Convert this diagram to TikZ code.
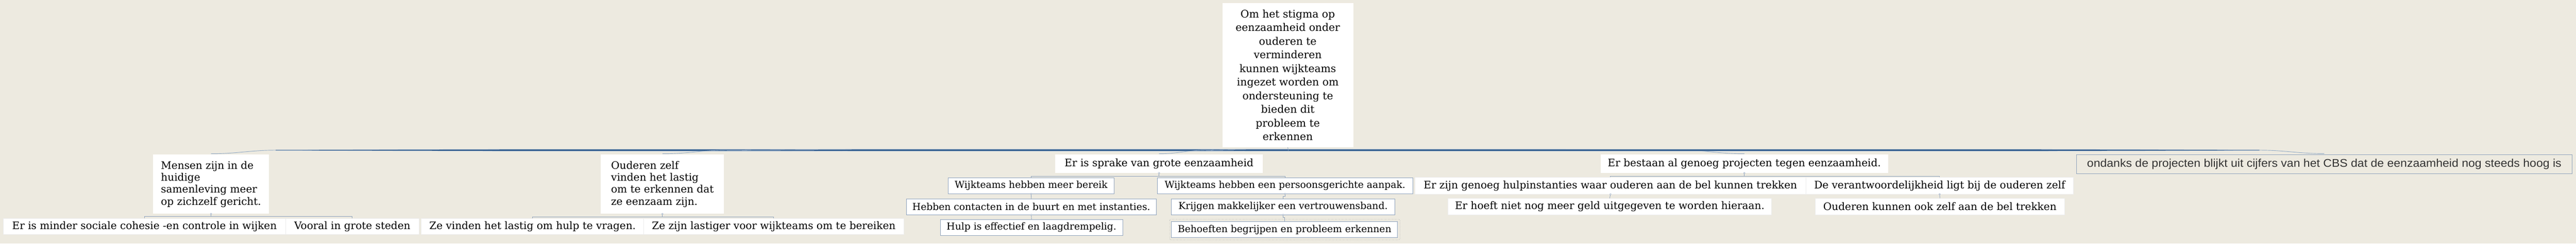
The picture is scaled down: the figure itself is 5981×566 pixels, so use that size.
\documentclass[tikz,border=0pt]{standalone}
\usepackage{fontspec}
\setmainfont{DejaVu Serif}
\newfontfamily\cbsfont{Liberation Sans}[FakeStretch=1.06]
\usetikzlibrary{calc}
\definecolor{paper}{RGB}{237,234,224}
\definecolor{trunkblue}{RGB}{44,88,138}
\definecolor{glowblue}{RGB}{172,190,212}
\definecolor{linkblue}{RGB}{143,163,189}
\definecolor{cbsgrey}{RGB}{51,51,51}
\begin{document}
\begin{tikzpicture}[x=1pt, y=-1pt,
    box/.style={fill=white, inner sep=0pt, font=\fontsize{24}{28}\selectfont},
    leaf/.style={box, draw=black!7, line width=0.8pt},
    framed/.style={box, draw=linkblue, line width=1pt, font=\fontsize{22.4}{26}\selectfont},
    cbsbox/.style={fill=paper, draw=linkblue, line width=1pt, inner sep=0pt, text=cbsgrey, font=\cbsfont\fontsize{26}{30}\selectfont},
    link/.style={draw=linkblue, line width=1pt},
    dot/.style={draw=linkblue, fill=white, line width=0.6pt},
    twig/.style={draw=glowblue!80!trunkblue, line width=1.1pt},
    selbox/.style={draw=black!35, dotted, rounded corners=3pt, line width=0.8pt}]
        % canvas
        \fill[paper] (0,0) rectangle (5981,566);
        \useasboundingbox (0,0) rectangle (5981,566);
        % centre
        \node[box, minimum width=304pt, minimum height=335pt, align=center, font=\fontsize{24.3}{31.7}\selectfont] (top) at (2990,174.5)
          {Om het stigma op\\eenzaamheid onder\\ouderen te\\verminderen\\kunnen wijkteams\\ingezet worden om\\ondersteuning te\\bieden dit\\probleem te\\erkennen};
        \coordinate (hub) at (2991,349);
        % main topics
        \node[box, minimum width=270pt, minimum height=138pt, align=left] (mensen) at (490,428)
          {Mensen zijn in de\\huidige\\samenleving meer\\op zichzelf gericht.};
        \node[box, minimum width=286pt, minimum height=138pt, align=left] (ouderen) at (1538,428)
          {Ouderen zelf\\vinden het lastig\\om te erkennen dat\\ze eenzaam zijn.};
        \node[box, minimum width=482pt, minimum height=43pt] (sprake) at (2691,380.5) {Er is sprake van grote eenzaamheid};
        \node[box, minimum width=668pt, minimum height=43pt] (bestaan) at (4050,380.5) {Er bestaan al genoeg projecten tegen eenzaamheid.};
        \node[cbsbox, minimum width=1151pt, minimum height=45pt] (cbs) at (5396.5,381.5)
          {ondanks de projecten blijkt uit cijfers van het CBS dat de eenzaamheid nog steeds hoog is};
        % subtopics
        \node[leaf, minimum width=655pt, minimum height=38pt] (cohesie) at (335.5,526) {Er is minder sociale cohesie -en controle in wijken};
        \node[leaf, minimum width=310pt, minimum height=38pt] (steden) at (818,526) {Vooral in grote steden};
        \node[leaf, minimum width=517pt, minimum height=38pt] (vragen) at (1236.5,526) {Ze vinden het lastig om hulp te vragen.};
        \node[leaf, minimum width=603pt, minimum height=38pt] (bereiken) at (1796.5,526) {Ze zijn lastiger voor wijkteams om te bereiken};
        \node[framed, minimum width=386pt, minimum height=37pt] (bereik) at (2394,431.5) {Wijkteams hebben meer bereik};
        \node[framed, minimum width=593pt, minimum height=37pt] (aanpak) at (2983.5,431.5) {Wijkteams hebben een persoonsgerichte aanpak.};
        \node[framed, minimum width=581pt, minimum height=37pt] (contacten) at (2394.5,480.5) {Hebben contacten in de buurt en met instanties.};
        \node[framed, minimum width=424pt, minimum height=37pt] (effectief) at (2395,528.5) {Hulp is effectief en laagdrempelig.};
        \node[framed, minimum width=518pt, minimum height=37pt] (vertrouwen) at (2979,480.5) {Krijgen makkelijker een vertrouwensband.};
        \node[framed, minimum width=525pt, minimum height=37pt] (behoeften) at (2982.5,533.5) {Behoeften begrijpen en probleem erkennen};
        \draw[selbox] ([shift={(-4,-5)}]behoeften.north west) rectangle ([shift={(5,5)}]behoeften.south east);
        \node[leaf, minimum width=908pt, minimum height=39pt] (instanties) at (3739,431.5) {Er zijn genoeg hulpinstanties waar ouderen aan de bel kunnen trekken};
        \node[leaf, minimum width=621pt, minimum height=39pt] (verantw) at (4503.5,431.5) {De verantwoordelijkheid ligt bij de ouderen zelf};
        \node[leaf, minimum width=751pt, minimum height=38pt] (geld) at (3737.5,480) {Er hoeft niet nog meer geld uitgegeven te worden hieraan.};
        \node[leaf, minimum width=580pt, minimum height=38pt] (zelfbel) at (4504,480) {Ouderen kunnen ook zelf aan de bel trekken};
        % branches from the centre
        \foreach \n/\q/\p/\a/\b in {mensen/1200/640/180/0, ouderen/2000/1688/180/0, sprake/2900/2800/180/0,
                                    bestaan/3600/3900/0/180, cbs/4700/5246/0/180} {
          \fill[glowblue] ($(hub)+(0,-2.6)$) -- (\q,346.4) -- (\p,348) -- (\p,350) -- (\q,351.6) -- ($(hub)+(0,2.6)$) -- cycle;
          \fill[trunkblue] ($(hub)+(0,-1.6)$) -- (\q,347.4) -- (\p,348.6) -- (\p,349.4) -- (\q,350.6) -- ($(hub)+(0,1.6)$) -- cycle;
          \draw[twig] (\p,349) to[out=\a, in=\b] ($(\n.north)+(0,-1.5)$);
        }
        \draw[link] (top.south) -- (hub);
        % lines to subtopics
        \draw[link] (cohesie.north) |- ($(mensen.south)+(0,6)$) -| (steden.north);
        \draw[link] (mensen.south) -- ++(0,6);
        \draw[link] (vragen.north) |- ($(ouderen.south)+(0,7)$) -| (bereiken.north);
        \draw[link] (ouderen.south) -- ++(0,7);
        \draw[link] (bereik.north) |- ($(sprake.south)+(0,7)$) -| (aanpak.north);
        \draw[link] (sprake.south) -- ++(0,7);
        \draw[link] (instanties.north) |- ($(bestaan.south)+(0,7)$) -| (verantw.north);
        \draw[link] (bestaan.south) -- ++(0,7);
        \draw[link] (bereik.south) -- (contacten.north);
        \draw[link] (contacten.south) -- (effectief.north);
        \draw[link] (aanpak.south) -- ++(0,6) -| (vertrouwen.north);
        \draw[link] (vertrouwen.south) -- ++(0,6) -| (behoeften.north);
        \draw[link] (instanties.south) -- (geld.north);
        \draw[link] (verantw.south) -- (zelfbel.north);
        \foreach \n in {mensen, ouderen, sprake, bestaan, bereik, aanpak, contacten, vertrouwen, instanties, verantw}
          \draw[dot] (\n.south) circle (1.8);
      \end{tikzpicture}
\end{document}
